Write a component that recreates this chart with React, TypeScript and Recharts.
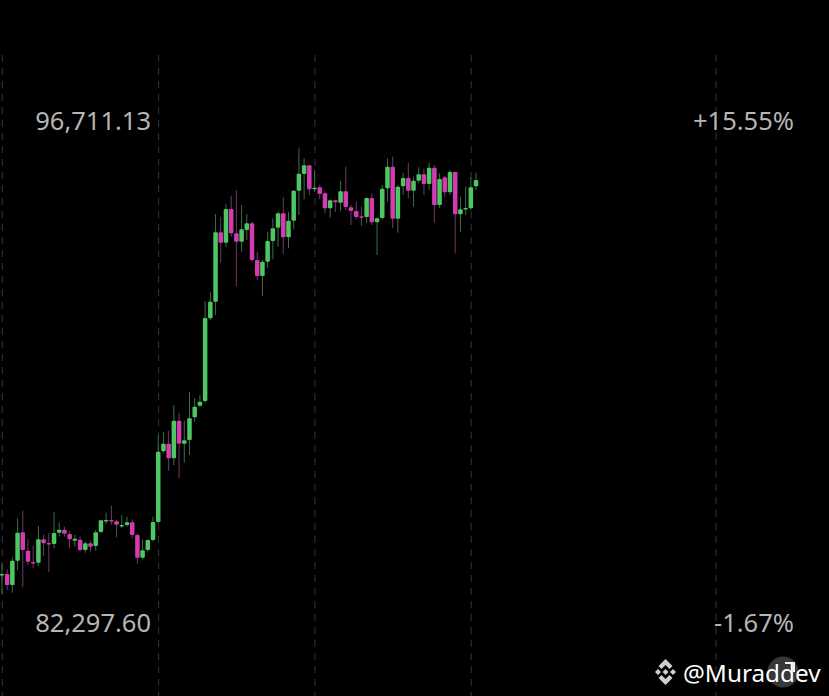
import { Bar, CartesianGrid, ComposedChart, ReferenceDot, XAxis, YAxis } from "recharts";

const opens = [83667,83704,83389,84086,84902,84373,84049,84029,84701,84594,84566,84890,84976,84853,84661,84689,84393,84586,84508,84910,85235,85255,85217,85091,85111,85189,84824,84172,84393,84681,85197,87227,87445,87026,88106,87445,87552,88203,88536,88671,91046,91522,93515,93216,94184,93486,93245,93581,93773,92719,92260,92671,93265,93647,94060,93371,93848,94709,95188,95438,94749,94807,94634,94204,94433,94364,94692,94232,94126,93974,93954,94499,93802,93925,94778,95398,93905,94835,95074,94709,94996,95180,94901,95369,94298,95094,94663,95246,94031,94175,94204,94835];
const highs = [84012,83839,84184,85304,85522,84701,84517,85083,84833,84873,85493,85189,85062,84939,84824,84775,84632,84661,84968,85255,85464,85665,85255,85398,85350,85275,84873,84701,84701,85350,87695,87773,87819,88556,88335,88106,88930,88757,88844,91542,91809,94040,93963,94318,94565,94729,94298,94040,93819,92958,92719,93532,93917,94106,94520,94106,94729,95926,95639,95447,95303,94873,94680,94462,94442,94987,95398,94298,94393,94250,94520,94634,93945,94873,95639,95685,94873,95226,95513,95111,95381,95352,95513,95447,95209,95131,95303,95254,94537,94824,95094,95226];
const lows = [83130,83245,83168,83819,83323,83963,83868,83934,84221,83762,84442,84775,84775,84442,84488,84345,84316,84345,84373,84873,85140,85111,84758,85017,85062,84729,83992,84126,84345,84632,85160,87187,86670,86834,86452,86900,87121,88077,88490,88614,90997,91140,92642,93084,93388,91973,92958,93294,92671,92145,91686,92481,92740,93101,92892,93055,93601,94011,94462,94586,94680,94462,94060,93934,94106,94135,94155,93724,93888,93696,93790,93724,92863,93868,94393,93629,93503,94586,94491,94250,94921,94586,94729,93790,94204,94520,94586,92912,93532,94011,94155,94729];
const closes = [83704,83389,84086,84890,84393,84058,84012,84701,84586,84566,84882,84976,84861,84701,84718,84393,84586,84488,84902,85246,85255,85235,85120,85111,85189,84824,84172,84385,84681,85197,87216,87445,87026,88106,87445,87543,88175,88508,88651,91054,91522,93515,93216,94184,93486,93245,93601,93773,92719,92260,92671,93265,93629,94060,93371,93848,94709,95197,95438,94749,94795,94614,94204,94433,94376,94692,94241,94126,93954,93934,94499,93802,93917,94766,95398,93905,94824,95074,94709,94996,95180,94901,95369,94298,95045,94663,95246,94031,94175,94212,94807,95016];

const gridCandles = [0, 30, 60, 90, 137];
const priceLabels = [
  { price: 96711.13, left: "96,711.13", right: "+15.55%" },
  { price: 82297.6, left: "82,297.60", right: "-1.67%" },
];

const candles = opens.map((open, i) => ({ i, open, high: highs[i], low: lows[i], close: closes[i] }));

const GREEN = "#4cc763";
const PINK = "#d43bb0";
const labelFont = { fill: "#b5b5b5", fontSize: 25.5, fontFamily: "Noto Sans" };

function Candle(props: any) {
  const { x, y, width, height, payload } = props;
  const up = payload.close >= payload.open;
  const perPrice = height / (payload.high - payload.low);
  const top = y + (payload.high - Math.max(payload.open, payload.close)) * perPrice;
  const bodyH = Math.max(Math.abs(payload.close - payload.open) * perPrice, 1.5);
  const mid = x + width / 2;
  return (
    <g>
      <line x1={mid} x2={mid} y1={y} y2={y + height} stroke={up ? "#3b6e48" : "#6e3a62"} strokeWidth={1} />
      <rect x={x} y={top} width={width} height={bodyH} rx={1} fill={up ? GREEN : PINK} />
    </g>
  );
}

function Watermark() {
  return (
    <svg width={829} height={696} style={{ position: "absolute", left: 0, top: 0, pointerEvents: "none" }}>
      <circle cx={783} cy={672} r={15.5} fill="#383838" />
      <g fill="#cfcfcf">
        <polygon points="665.500,659 672.500,666 669.500,669 665.500,665 661.500,669 658.500,666" />
        <polygon points="665.500,685 672.500,678 669.500,675 665.500,679 661.500,675 658.500,678" />
        <polygon points="655,672 658,669 661,672 658,675" />
        <polygon points="676,672 673,669 670,672 673,675" />
        <polygon points="665.500,669 668.500,672 665.500,675 662.500,672" />
      </g>
      <text x={683} y={682} fill="#ffffff" fontSize={24.3} fontFamily="Noto Sans">@Muraddev</text>
      <path d="M785 663 H794 V672" stroke="#f0f0f0" strokeWidth={2} fill="none" />
    </svg>
  );
}

export default function App() {
  return (
    <div style={{ position: "absolute", left: 0, top: 0, width: 829, height: 696, background: "#000", overflow: "hidden" }}>
      <ComposedChart width={829} height={696} data={candles} margin={{ top: 0, right: 0, bottom: 0, left: 0 }}>
        <XAxis dataKey="i" type="number" domain={[-0.441, 158.68]} interval={0} hide />
        <YAxis type="number" domain={[80202, 100184]} hide />
        <CartesianGrid
          horizontal={false}
          verticalValues={gridCandles}
          y={55}
          height={641}
          stroke="#343434"
          strokeDasharray="7 6"
        />
        <Bar dataKey={(d: any) => [d.low, d.high]} barSize={4.5} shape={Candle} isAnimationActive={false} />
        {priceLabels.map((p) => (
          <ReferenceDot key={p.left} x={28.54} y={p.price} r={0} stroke="none" fill="none"
            label={{ value: p.left, position: "left", offset: 0, ...labelFont }} />
        ))}
        {priceLabels.map((p) => (
          <ReferenceDot key={p.right} x={151.96} y={p.price} r={0} stroke="none" fill="none"
            label={{ value: p.right, position: "left", offset: 0, ...labelFont }} />
        ))}
      </ComposedChart>
      <Watermark />
    </div>
  );
}
